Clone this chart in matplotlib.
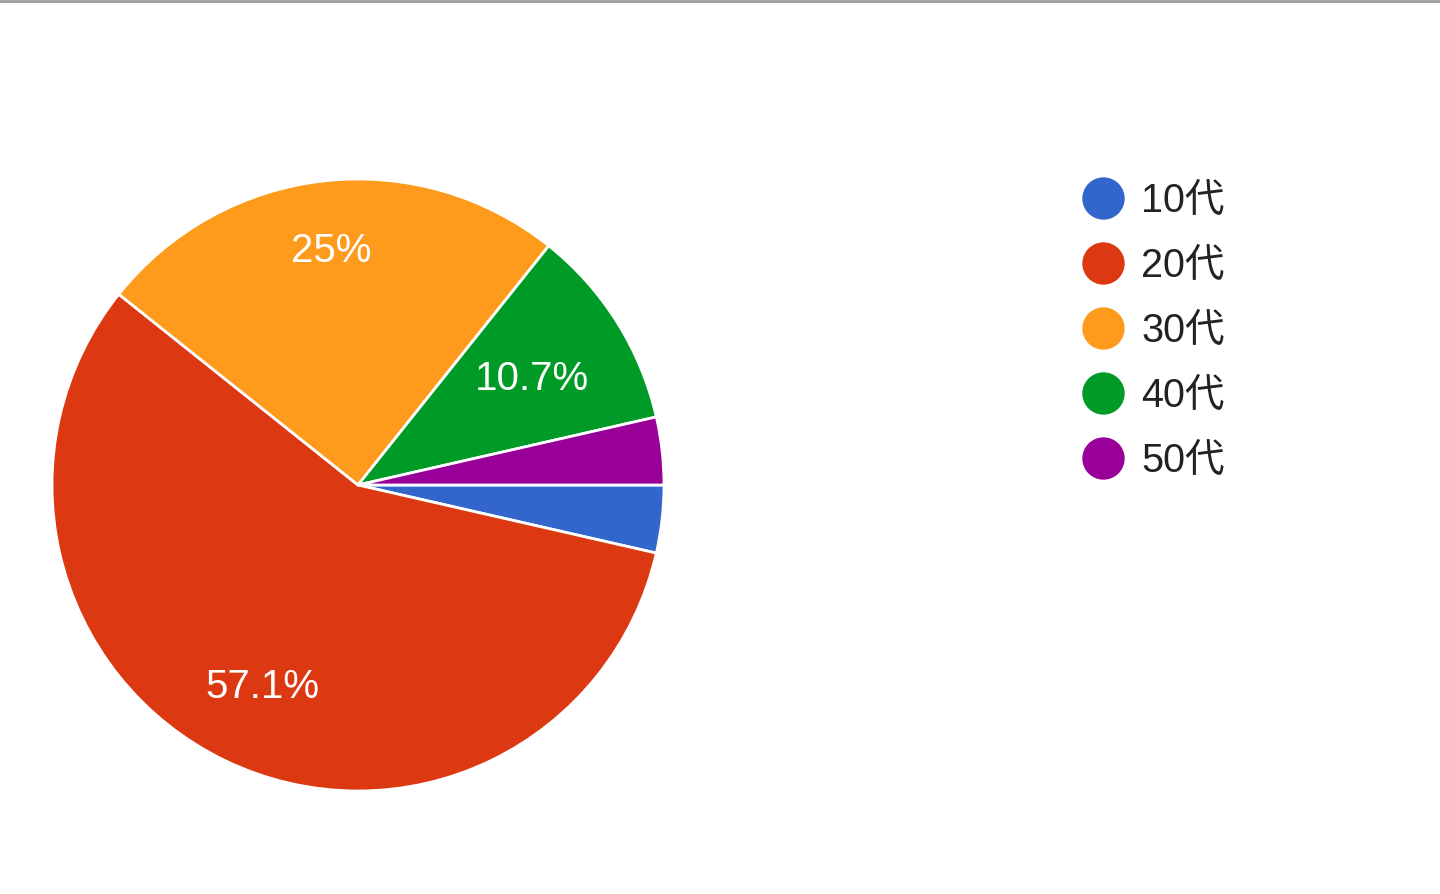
import numpy as np
import matplotlib.pyplot as plt
from matplotlib.lines import Line2D

plt.rcParams['font.family'] = ['Liberation Sans', 'Noto Sans CJK JP', 'DejaVu Sans']

# data
labels = ['10代', '20代', '30代', '40代', '50代']
counts = [1, 16, 7, 3, 1]
colors = ['#3366cc', '#dc3912', '#ff9b1c', '#009a27', '#990099']
pct_labels = ['', '57.1%', '25%', '10.7%', '']
label_dist = [0.7, 0.72, 0.78, 0.67, 0.7]

fig = plt.figure(figsize=(14.4, 8.94), dpi=100)
W, H = 1440, 894
cx, cy, r = 358, 485, 306
ax = fig.add_axes([(cx - r) / W, (H - cy - r) / H, 2 * r / W, 2 * r / H])

wedges, _ = ax.pie(counts, colors=colors, startangle=0, counterclock=False,
                   radius=1, wedgeprops=dict(edgecolor='white', linewidth=2))
ax.set_xlim(-1, 1)
ax.set_ylim(-1, 1)
ax.set_aspect('equal')

for w, txt, d in zip(wedges, pct_labels, label_dist):
    if not txt:
        continue
    ang = np.deg2rad((w.theta1 + w.theta2) / 2)
    ax.text(d * np.cos(ang), d * np.sin(ang) - 0.01, txt, color='white',
            fontsize=29, ha='center', va='center')

# legend drawn by hand, one row per category
for i, (lab, c) in enumerate(zip(labels, colors)):
    y = 1 - (198 + 65 * i) / H
    fig.add_artist(Line2D([1103 / W], [y], marker='o', markersize=29.5,
                          markerfacecolor=c, markeredgecolor=c, linestyle=''))
    fig.text(1141 / W, y - 3 / H, lab, fontsize=28.5, color='#222222', ha='left', va='center')

# top border line
fig.add_artist(Line2D([0, 1], [1 - 0.5 / H, 1 - 0.5 / H], color='#9e9e9e', linewidth=2))

fig.savefig('out.png', dpi=100, facecolor='white')
